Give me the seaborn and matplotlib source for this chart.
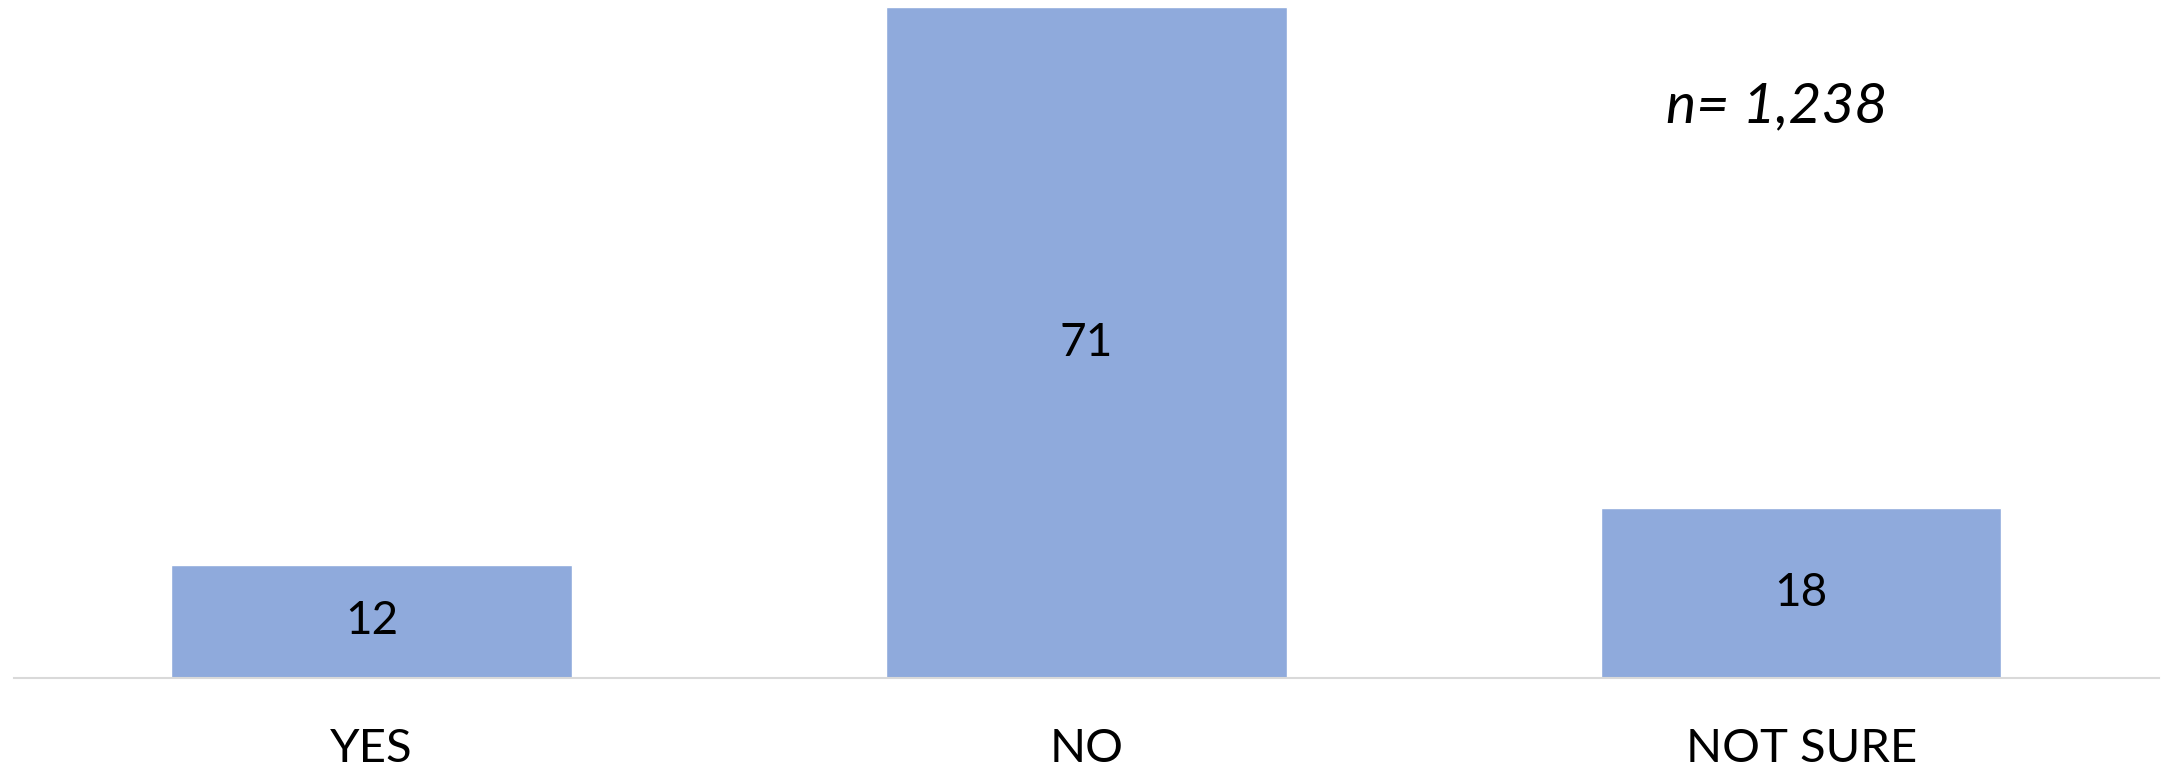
import matplotlib
matplotlib.use("Agg")
import matplotlib.pyplot as plt
import seaborn as sns
import pandas as pd

# survey answers (percent)
answers = ["YES", "NO", "NOT SURE"]
percents = [12, 71, 18]
n_label = "n= 1,238"

sns.set_theme(style="white")
plt.rcParams['font.family'] = ['Lato', 'DejaVu Sans']
plt.rcParams['text.color'] = 'black'
plt.rcParams['xtick.color'] = 'black'

df = pd.DataFrame({"answer": answers, "pct": percents})

fig = plt.figure(figsize=(21.63, 7.68), dpi=100)
ax = fig.add_axes([0.0065, 0.117, 0.9915, 0.883])

sns.barplot(data=df, x="answer", y="pct", color="#8FAADC", saturation=1,
            width=0.56, ax=ax)

ax.set_xlim(-0.5, 2.5)
ax.set_ylim(0, 71.74)
ax.bar_label(ax.containers[0], label_type="center", fontsize=33, color="black")

for s in ["top", "right", "left"]:
    ax.spines[s].set_visible(False)
ax.spines["bottom"].set_color("#D9D9D9")
ax.spines["bottom"].set_linewidth(1.5)
ax.set_yticks([])
ax.set_xlabel("")
ax.set_ylabel("")
ax.tick_params(axis="x", length=0, pad=36, labelsize=34, labelcolor="black")

ax.text(0.822, 0.843, n_label, transform=ax.transAxes, fontsize=41,
        style="italic", ha="center", va="center", color="black")

fig.savefig("out.png", dpi=100)
